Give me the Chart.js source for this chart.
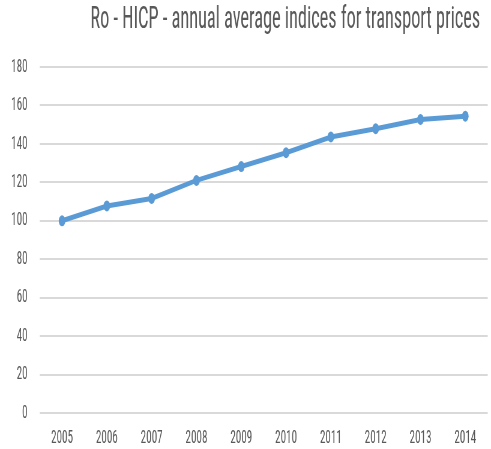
<!DOCTYPE html>
<html>
<head>
<meta charset="utf-8">
<script src="https://cdn.jsdelivr.net/npm/chart.js@4/dist/chart.umd.min.js"></script>
<style>
html,body{margin:0;padding:0;background:#fff;overflow:hidden;}
#wrap{width:818px;height:449px;transform:scaleX(0.60024);transform-origin:0 0;}
canvas{display:block;}
</style>
</head>
<body>
<div id="wrap"><canvas id="c" width="818" height="449"></canvas></div>
<script>
const years = ["2005","2006","2007","2008","2009","2010","2011","2012","2013","2014"];
const hicpTransport = [100, 107.7, 111.6, 121, 128.2, 135.4, 143.6, 147.9, 152.7, 154.4];
const yTicks = [0, 20, 40, 60, 80, 100, 120, 140, 160, 180];
const titleText = "Ro - HICP - annual average indices for transport prices";

const FONT = "'Roboto Condensed', 'DejaVu Sans Condensed', sans-serif";
const GRAY = '#595959';

const titlePlugin = {
  id: 'rightTitle',
  afterDraw(chart) {
    const ctx = chart.ctx;
    ctx.save();
    ctx.font = "30.5px " + FONT;
    ctx.fillStyle = GRAY;
    ctx.textAlign = 'right';
    ctx.textBaseline = 'alphabetic';
    ctx.fillText(titleText, chart.width - 18, 28);
    ctx.restore();
  }
};

new Chart(document.getElementById('c'), {
  type: 'line',
  data: {
    labels: years,
    datasets: [{
      data: hicpTransport,
      borderColor: '#5B9BD5',
      backgroundColor: '#5B9BD5',
      borderWidth: 5,
      pointRadius: 5.5,
      pointHoverRadius: 5.5,
      pointBorderWidth: 0,
      pointStyle: 'circle',
      tension: 0,
      fill: false
    }]
  },
  plugins: [titlePlugin],
  options: {
    responsive: false,
    animation: false,
    layout: { padding: { left: 0, right: 0, top: 67, bottom: 0 } },
    plugins: {
      legend: { display: false },
      tooltip: { enabled: false },
      title: { display: false }
    },
    scales: {
      x: {
        offset: true,
        grid: { display: false, drawTicks: false },
        border: { display: false },
        ticks: {
          color: GRAY,
          font: { family: FONT, size: 18.5 },
          padding: 14,
          maxRotation: 0,
          autoSkip: false
        },
        afterFit: (s) => { s.height = 36; }
      },
      y: {
        min: 0,
        max: 180,
        afterBuildTicks: (s) => { s.ticks = yTicks.map(v => ({ value: v })); },
        grid: { color: '#D9D9D9', lineWidth: 2, drawTicks: false },
        border: { display: false },
        ticks: {
          color: GRAY,
          font: { family: FONT, size: 18.5 },
          padding: 20
        },
        afterFit: (s) => { s.width = 66; }
      }
    }
  }
});
</script>
</body>
</html>
